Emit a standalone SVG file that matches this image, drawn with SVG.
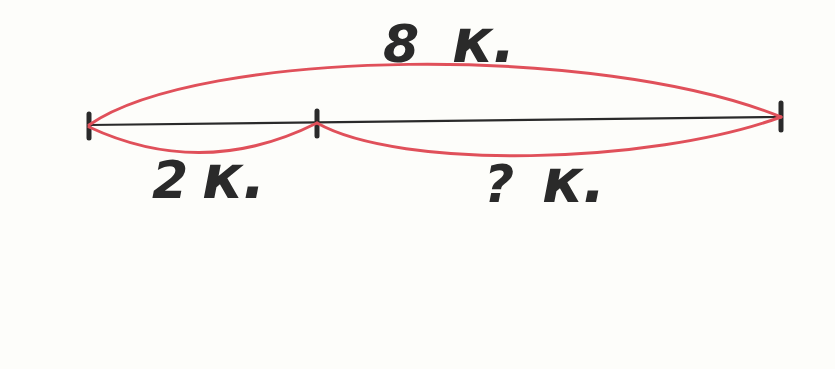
<svg xmlns="http://www.w3.org/2000/svg" width="835" height="369" viewBox="0 0 835 369">
<style>
.lbl{font-family:"DejaVu Sans",sans-serif;font-weight:bold;font-style:italic;font-size:52px;fill:#2a2a2a}
.k{font-size:60px}
.arc{fill:none;stroke:#e0505a;stroke-width:3;stroke-linecap:round}
.tick{stroke:#2a2a2a;stroke-width:5;stroke-linecap:round}
</style>
<rect width="835" height="369" fill="#fdfdfa"/>
<g id="segment">
<line x1="89" y1="125" x2="781" y2="117" stroke="#2a2a2a" stroke-width="2.2"/>
<line class="tick" x1="89" y1="114" x2="89" y2="138"/>
<line class="tick" x1="317" y1="111" x2="317" y2="136"/>
<line class="tick" x1="781" y1="103" x2="781" y2="130"/>
</g>
<g id="arcs">
<path class="arc" d="M89,125 C200,48 600,43 781,117"/>
<path class="arc" d="M89,127 Q203,180 317,123"/>
<path class="arc" d="M317,123 C400,170 650,165 781,117"/>
</g>
<g id="labels">
<text class="lbl" y="62"><tspan x="383">8</tspan><tspan class="k" x="452">к.</tspan></text>
<text class="lbl" y="198"><tspan x="152">2</tspan><tspan class="k" x="202">к.</tspan></text>
<text class="lbl" y="202"><tspan x="484">?</tspan><tspan class="k" x="542">к.</tspan></text>
</g>
</svg>
